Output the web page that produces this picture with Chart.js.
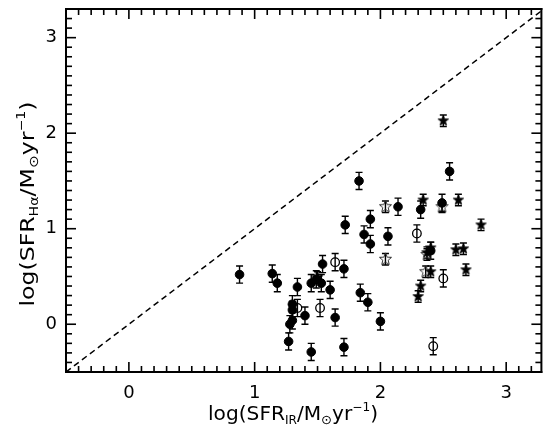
<!DOCTYPE html>
<html>
<head>
<meta charset="utf-8">
<script src="https://cdn.jsdelivr.net/npm/chart.js@4.4.1/dist/chart.umd.min.js"></script>
<style>
html,body{margin:0;padding:0;background:#fff;}
canvas{display:block;}
</style>
</head>
<body>
<canvas id="c" width="547" height="434"></canvas>
<script>
// ---- data ----
const filledCircleX = [0.88,1.14,1.18,1.34,1.30,1.30,1.30,1.28,1.27,1.40,1.45,1.49,1.54,1.53,1.60,1.71,1.72,1.64,1.71,1.45,1.83,1.87,1.92,1.92,1.84,1.90,2.00,2.06,2.14,2.32,2.49,2.55,2.40];
const filledCircleY = [0.52,0.53,0.43,0.39,0.21,0.15,0.04,0.00,-0.18,0.09,0.43,0.47,0.63,0.43,0.36,0.58,1.04,0.07,-0.24,-0.29,1.50,0.94,1.10,0.84,0.33,0.23,0.03,0.92,1.23,1.20,1.27,1.60,0.77];
const openCircleX = [1.34,1.52,1.64,2.29,2.50,2.42];
const openCircleY = [0.17,0.17,0.65,0.95,0.48,-0.23];
const filledStarX = [2.50,2.34,2.62,2.80,2.37,2.40,2.60,2.66,2.68,2.40,2.32,2.30,1.50];
const filledStarY = [2.13,1.30,1.30,1.04,0.75,0.80,0.78,0.79,0.57,0.55,0.40,0.29,0.49];
const openStarX = [2.04,2.04,2.49,2.36,2.37];
const openStarY = [1.23,0.68,1.23,0.55,0.73];
const oneToOneX = [-0.5,3.3];
const xTickLabels = [0,1,2,3];
const yTickLabels = [0,1,2,3];
const minorTickValues = [-0.4,-0.3,-0.2,-0.1,0,0.1,0.2,0.3,0.4,0.5,0.6,0.7,0.8,0.9,1,1.1,1.2,1.3,1.4,1.5,1.6,1.7,1.8,1.9,2,2.1,2.2,2.3,2.4,2.5,2.6,2.7,2.8,2.9,3,3.1,3.2];
const circleErr = 0.09;
const starErr = 0.06;

const pts = (xs, ys) => xs.map((x, i) => ({x: x, y: ys[i]}));

function makeStar(outer, inner, fill, stroke, lw) {
  const size = Math.ceil(outer * 2 + lw * 2 + 2);
  const c = document.createElement('canvas');
  c.width = size; c.height = size;
  const g = c.getContext('2d');
  const cx = size / 2, cy = size / 2;
  g.beginPath();
  for (let k = 0; k < 10; k++) {
    const r = k % 2 === 0 ? outer : inner;
    const a = -Math.PI / 2 + k * Math.PI / 5;
    const px = cx + r * Math.cos(a), py = cy + r * Math.sin(a);
    if (k === 0) g.moveTo(px, py); else g.lineTo(px, py);
  }
  g.closePath();
  if (fill) { g.fillStyle = fill; g.fill(); }
  if (stroke) { g.strokeStyle = stroke; g.lineWidth = lw; g.stroke(); }
  return c;
}
const filledStarImg = makeStar(5.5, 2.3, '#000', '#000', 0.8);
const openStarImg = makeStar(6.4, 2.8, null, '#333', 1);

const FONT = '"DejaVu Sans", sans-serif';

function drawRich(ctx, runs, cx, baseY, rotate, targetW) {
  ctx.save();
  ctx.translate(cx, baseY);
  if (rotate) ctx.rotate(-Math.PI / 2);
  let total = 0;
  runs.forEach(r => { ctx.font = r.size + 'px ' + FONT; r.w = ctx.measureText(r.t).width; total += r.w; });
  ctx.scale(targetW / total, 1);
  let x = -total / 2;
  ctx.fillStyle = '#000';
  ctx.textBaseline = 'alphabetic';
  ctx.textAlign = 'left';
  runs.forEach(r => { ctx.font = r.size + 'px ' + FONT; ctx.fillText(r.t, x, r.dy); x += r.w; });
  ctx.restore();
}

const errorBars = {
  id: 'errorBars',
  beforeDatasetsDraw(chart) {
    const ctx = chart.ctx, xs = chart.scales.x, ys = chart.scales.y;
    ctx.save();
    ctx.strokeStyle = '#000';
    ctx.lineWidth = 1.4;
    chart.data.datasets.forEach(ds => {
      if (!ds.errHalf) return;
      ds.data.forEach(p => {
        const px = xs.getPixelForValue(p.x);
        const y1 = ys.getPixelForValue(p.y - ds.errHalf);
        const y2 = ys.getPixelForValue(p.y + ds.errHalf);
        ctx.beginPath();
        ctx.moveTo(px, y1); ctx.lineTo(px, y2);
        ctx.moveTo(px - 3.5, y1); ctx.lineTo(px + 3.5, y1);
        ctx.moveTo(px - 3.5, y2); ctx.lineTo(px + 3.5, y2);
        ctx.stroke();
      });
    });
    ctx.restore();
  }
};

const frame = {
  id: 'frame',
  afterDraw(chart) {
    const ctx = chart.ctx, area = chart.chartArea, xs = chart.scales.x, ys = chart.scales.y;
    const L = area.left, R = area.right, T = area.top, B = area.bottom;
    ctx.save();
    ctx.fillStyle = '#000';
    ctx.fillRect(L - 1, T - 1, R - L + 2, 2);
    ctx.fillRect(L - 1, B - 1, R - L + 2, 2);
    ctx.fillRect(L - 1, T - 1, 2, B - T + 2);
    ctx.fillRect(R - 1, T - 1, 2, B - T + 2);
    minorTickValues.forEach(v => {
      const major = Math.abs(v - Math.round(v)) < 1e-6;
      const len = major ? 10 : 6;
      const px = xs.getPixelForValue(v);
      ctx.fillRect(px - 0.8, B - len, 1.6, len);
      ctx.fillRect(px - 0.8, T, 1.6, len);
      const py = ys.getPixelForValue(v);
      ctx.fillRect(L, py - 0.8, len, 1.6);
      ctx.fillRect(R - len, py - 0.8, len, 1.6);
    });
    [3.3].forEach(v => {
      const py = ys.getPixelForValue(v);
    });
    ctx.font = '18px ' + FONT;
    ctx.textBaseline = 'middle';
    ctx.textAlign = 'center';
    xTickLabels.forEach(v => ctx.fillText(String(v), xs.getPixelForValue(v), B + 21));
    ctx.textAlign = 'right';
    yTickLabels.forEach(v => ctx.fillText(String(v), L - 9, ys.getPixelForValue(v)));
    ctx.restore();

    drawRich(ctx, [
      {t: 'log(SFR', size: 20, dy: 0},
      {t: 'IR', size: 12, dy: 4},
      {t: '/M', size: 20, dy: 0},
      {t: '⊙', size: 13, dy: 4},
      {t: 'yr', size: 20, dy: 0},
      {t: '−1', size: 12, dy: -9},
      {t: ')', size: 20, dy: 0}
    ], 293, 420, false, 170);
    drawRich(ctx, [
      {t: 'log(SFR', size: 20, dy: 0},
      {t: 'Hα', size: 12, dy: 4},
      {t: '/M', size: 20, dy: 0},
      {t: '⊙', size: 13, dy: 4},
      {t: 'yr', size: 20, dy: 0},
      {t: '−1', size: 12, dy: -9},
      {t: ')', size: 20, dy: 0}
    ], 34, 204, true, 205);
  }
};

new Chart(document.getElementById('c'), {
  type: 'scatter',
  data: {
    datasets: [
      {
        label: '1:1',
        data: pts(oneToOneX, oneToOneX),
        showLine: true,
        borderColor: '#000',
        borderWidth: 1.5,
        borderDash: [6, 4],
        pointRadius: 0,
        fill: false,
        order: 5
      },
      {
        label: 'filled circles',
        data: pts(filledCircleX, filledCircleY),
        pointStyle: 'circle',
        pointRadius: 4.3,
        backgroundColor: '#000',
        borderColor: '#000',
        borderWidth: 1,
        errHalf: circleErr
      },
      {
        label: 'open circles',
        data: pts(openCircleX, openCircleY),
        pointStyle: 'circle',
        pointRadius: 4.3,
        backgroundColor: 'rgba(0,0,0,0)',
        borderColor: '#000',
        borderWidth: 1.3,
        errHalf: circleErr
      },
      {
        label: 'filled stars',
        data: pts(filledStarX, filledStarY),
        pointStyle: filledStarImg,
        errHalf: starErr
      },
      {
        label: 'open stars',
        data: pts(openStarX, openStarY),
        pointStyle: openStarImg,
        errHalf: starErr
      }
    ]
  },
  options: {
    responsive: false,
    animation: false,
    devicePixelRatio: 1,
    layout: {padding: {left: 0, right: 2, top: 9, bottom: 0}},
    plugins: {legend: {display: false}, tooltip: {enabled: false}},
    scales: {
      x: {
        type: 'linear', min: -0.5, max: 3.28,
        grid: {display: false}, border: {display: false},
        ticks: {display: false},
        afterFit(s) { s.height = 62; }
      },
      y: {
        type: 'linear', min: -0.5, max: 3.3,
        grid: {display: false}, border: {display: false},
        ticks: {display: false},
        afterFit(s) { s.width = 66; }
      }
    }
  },
  plugins: [errorBars, frame]
});
</script>
</body>
</html>
